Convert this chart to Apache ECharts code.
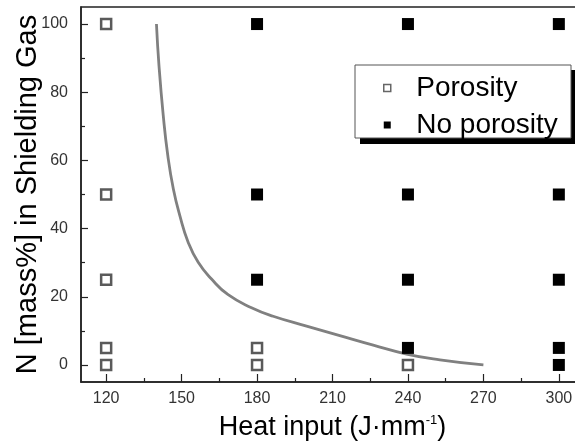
<!DOCTYPE html>
<html>
<head>
<meta charset="utf-8">
<script src="https://cdn.jsdelivr.net/npm/echarts@6/dist/echarts.min.js"></script>
<style>html,body{margin:0;padding:0;background:#fff;}#c{width:575px;height:445px;}</style>
</head>
<body>
<div id="c"></div>
<script>
// Data
const porosity = [[120,0],[120,5],[120,25],[120,50],[120,100],[180,0],[180,5],[240,0]];
const noPorosity = [[180,25],[180,50],[180,100],[240,5],[240,25],[240,50],[240,100],[300,0],[300,5],[300,25],[300,50],[300,100]];
const boundaryX = [140, 141, 142.7, 144.5, 146.7, 149.3, 152.6, 156.6, 161.9, 168.5, 177.8, 186.4, 199.7, 212.9, 226.2, 239.4, 252.7, 270];
const boundaryY = [100, 87.9, 73.2, 61.5, 51.7, 43.8, 36.0, 30.1, 25.2, 20.6, 16.8, 14.3, 11.4, 8.6, 5.8, 3.2, 1.5, 0];
const xTicks = [120,150,180,210,240,270,300];
const xMinorTicks = [135,165,195,225,255,285];
const yTicks = [0,20,40,60,80,100];
const yMinorTicks = [10,30,50,70,90];

const boundary = boundaryX.map((x,i)=>[x, boundaryY[i]]);
const FONT = 'Liberation Sans';

const chart = echarts.init(document.getElementById('c'), null, {renderer:'canvas'});
const axisLineStyle = {color:'#222', width:1.5};
chart.setOption({
  animation:false,
  backgroundColor:'#fff',
  grid:{left:81, top:7, width:503, height:375, show:true, borderColor:'#222', borderWidth:1.5,
        backgroundColor:'transparent', containLabel:false, outerBoundsMode:'none'},
  xAxis:[{
    type:'value', min:110, max:310,
    axisLine:{show:true, onZero:false, lineStyle:axisLineStyle},
    axisTick:{show:true, inside:true, length:8, lineStyle:{color:'#222', width:1.2}, customValues:xTicks},
    axisLabel:{customValues:xTicks, fontFamily:FONT, fontSize:16, color:'#333', margin:9},
    splitLine:{show:false},
    name:'{a|Heat input (J·mm}{s|-1}{a|)}',
    nameLocation:'middle', nameGap:32, nameMoveOverlap:false,
    nameTextStyle:{rich:{a:{fontFamily:FONT, fontSize:27, color:'#000', lineHeight:28}, s:{fontFamily:FONT, fontSize:13, color:'#000', verticalAlign:'top', lineHeight:28}}}
  },{
    type:'value', min:110, max:310, position:'bottom',
    axisLine:{show:false, onZero:false},
    axisTick:{show:true, inside:true, length:4, lineStyle:{color:'#222', width:1.2}, customValues:xMinorTicks},
    axisLabel:{show:false}, splitLine:{show:false}
  }],
  yAxis:[{
    type:'value', min:-5, max:105,
    axisLine:{show:true, onZero:false, lineStyle:axisLineStyle},
    axisTick:{show:true, inside:true, length:7, lineStyle:{color:'#222', width:1.2}, customValues:yTicks},
    axisLabel:{customValues:yTicks, fontFamily:FONT, fontSize:16, color:'#333', margin:13},
    splitLine:{show:false},
    name:'N [mass%] in Shielding Gas',
    nameLocation:'middle', nameGap:39, nameMoveOverlap:false,
    nameTextStyle:{fontFamily:FONT, fontSize:29, color:'#000'}
  },{
    type:'value', min:-5, max:105, position:'left',
    axisLine:{show:false, onZero:false},
    axisTick:{show:true, inside:true, length:4, lineStyle:{color:'#222', width:1.2}, customValues:yMinorTicks},
    axisLabel:{show:false}, splitLine:{show:false}
  }],
  legend:{
    show:true, orient:'vertical', left:383, top:74,
    itemWidth:48, itemHeight:7, itemGap:9, padding:0,
    symbolKeepAspect:true,
    textStyle:{fontFamily:FONT, fontSize:28, color:'#000', lineHeight:28},
    data:[
      {name:'Porosity', icon:'path://M0,0 h10 v10 h-10 Z', itemStyle:{color:'#fff', borderColor:'#666', borderWidth:1.5}},
      {name:'No porosity', icon:'path://M0,0 h10 v10 h-10 Z', itemStyle:{color:'#000', borderWidth:0}}
    ],
    z:10
  },
  graphic:[
    {type:'rect', shape:{x:360, y:70, width:216, height:74}, style:{fill:'#000'}, z:8, silent:true},
    {type:'rect', shape:{x:355, y:65, width:216, height:73}, style:{fill:'#fff', stroke:'#555', lineWidth:1}, z:9, silent:true}
  ],
  series:[
    {name:'Boundary', type:'line', data:boundary, smooth:0.5, showSymbol:false, symbol:'none',
     lineStyle:{color:'#808080', width:2.8}, z:2},
    {name:'Porosity', type:'scatter', data:porosity, symbol:'rect', symbolSize:10,
     itemStyle:{color:'#fff', borderColor:'#5a5a5a', borderWidth:2.5, opacity:1}, z:3},
    {name:'No porosity', type:'scatter', data:noPorosity, symbol:'rect', symbolSize:12,
     itemStyle:{color:'#000', opacity:1}, z:3}
  ]
});
</script>
</body>
</html>
